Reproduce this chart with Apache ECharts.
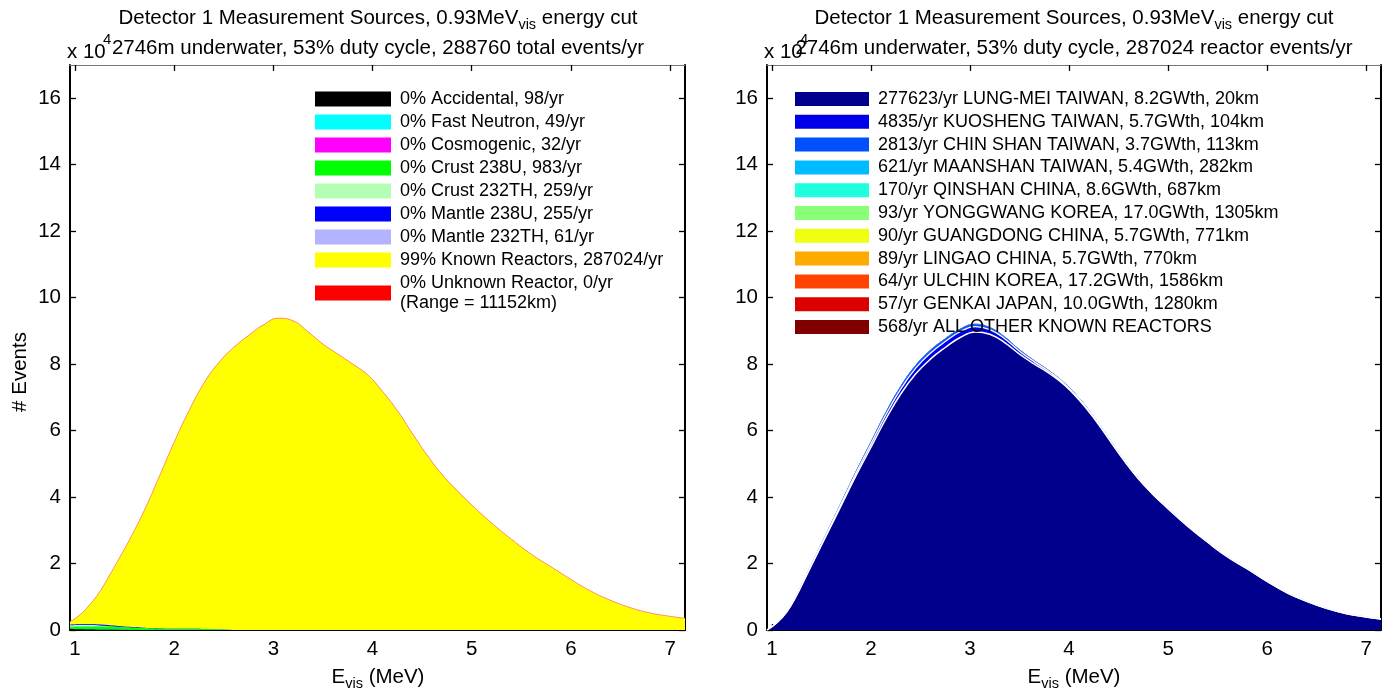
<!DOCTYPE html>
<html>
<head>
<meta charset="utf-8">
<script src="https://cdn.jsdelivr.net/npm/echarts@6/dist/echarts.min.js"></script>
<style>
  html, body { margin: 0; padding: 0; background: #ffffff; }
  #chart { width: 1398px; height: 699px; }
</style>
</head>
<body>
<div id="chart"></div>
<script>
// Visible energy grid (MeV) shared by every spectrum
const energy = [0.95, 1.05, 1.15, 1.25, 1.35, 1.45, 1.55, 1.7, 1.85, 2.0, 2.15, 2.3, 2.45, 2.6, 2.75, 2.9, 3.05, 3.2, 3.35, 3.5,
  3.65, 3.8, 3.95, 4.1, 4.25, 4.4, 4.55, 4.7, 4.85, 5.0, 5.2, 5.4, 5.6, 5.8, 6.0, 6.2, 6.4, 6.6, 6.8, 7.0, 7.15];

// Tick values
const xTicks = [1, 2, 3, 4, 5, 6, 7];
const yTicks = [0, 2, 4, 6, 8, 10, 12, 14, 16];

// ---- Measurement sources (events per bin, x 10^4) ----
const accidental = [0.03, 0.02, 0.012, 0.007, 0.004, 0.002, 0.001, 0, 0, 0, 0, 0, 0, 0, 0, 0, 0, 0, 0, 0,
  0, 0, 0, 0, 0, 0, 0, 0, 0, 0, 0, 0, 0, 0, 0, 0, 0, 0, 0, 0, 0];
const fastNeutron = [0.001, 0.001, 0.001, 0.001, 0.001, 0.001, 0.001, 0.001, 0.001, 0.001, 0.001, 0.001, 0.001, 0.001, 0.001, 0.001, 0.001, 0.001, 0.001, 0.001,
  0.001, 0.001, 0.001, 0.001, 0.001, 0.001, 0.001, 0.001, 0.001, 0.001, 0.001, 0.001, 0.001, 0.001, 0.001, 0.001, 0.001, 0.001, 0.001, 0.001, 0.001];
const cosmogenic = [0.001, 0.001, 0.001, 0.001, 0.001, 0.001, 0.001, 0.001, 0.001, 0.001, 0.001, 0.001, 0.001, 0.001, 0.001, 0.001, 0.001, 0.001, 0.001, 0.001,
  0.001, 0.001, 0.001, 0.001, 0.001, 0.001, 0.001, 0.001, 0.001, 0.001, 0.0005, 0.0005, 0.0005, 0.0005, 0.0005, 0.0005, 0.0005, 0.0005, 0.0005, 0.0005, 0.0005];
const crust238U = [0.06, 0.08, 0.095, 0.1, 0.1, 0.09, 0.075, 0.05, 0.035, 0.03, 0.03, 0.025, 0.01, 0, 0, 0, 0, 0, 0, 0,
  0, 0, 0, 0, 0, 0, 0, 0, 0, 0, 0, 0, 0, 0, 0, 0, 0, 0, 0, 0, 0];
const crust232Th = [0.05, 0.05, 0.04, 0.03, 0.01, 0, 0, 0, 0, 0, 0, 0, 0, 0, 0, 0, 0, 0, 0, 0,
  0, 0, 0, 0, 0, 0, 0, 0, 0, 0, 0, 0, 0, 0, 0, 0, 0, 0, 0, 0, 0];
const mantle238U = [0.015, 0.02, 0.025, 0.026, 0.025, 0.022, 0.018, 0.012, 0.009, 0.008, 0.008, 0.006, 0.003, 0, 0, 0, 0, 0, 0, 0,
  0, 0, 0, 0, 0, 0, 0, 0, 0, 0, 0, 0, 0, 0, 0, 0, 0, 0, 0, 0, 0];
const mantle232Th = [0.012, 0.012, 0.01, 0.007, 0.003, 0, 0, 0, 0, 0, 0, 0, 0, 0, 0, 0, 0, 0, 0, 0,
  0, 0, 0, 0, 0, 0, 0, 0, 0, 0, 0, 0, 0, 0, 0, 0, 0, 0, 0, 0, 0];
const knownReactors = [0.08, 0.27, 0.58, 0.98, 1.51, 2.06, 2.62, 3.54, 4.57, 5.61, 6.56, 7.39, 8.03, 8.5, 8.86, 9.18, 9.38, 9.3, 8.97, 8.6,
  8.3, 8.0, 7.68, 7.18, 6.6, 5.92, 5.26, 4.68, 4.2, 3.76, 3.22, 2.73, 2.28, 1.9, 1.52, 1.17, 0.89, 0.67, 0.51, 0.41, 0.35];
const unknownReactor = [0, 0, 0, 0, 0, 0, 0, 0, 0, 0, 0, 0, 0, 0, 0, 0, 0, 0, 0, 0,
  0, 0, 0, 0, 0, 0, 0, 0, 0, 0, 0, 0, 0, 0, 0, 0, 0, 0, 0, 0, 0];

const sourceNames = [
  '0% Accidental, 98/yr', '0% Fast Neutron, 49/yr', '0% Cosmogenic, 32/yr', '0% Crust 238U, 983/yr',
  '0% Crust 232TH, 259/yr', '0% Mantle 238U, 255/yr', '0% Mantle 232TH, 61/yr',
  '99% Known Reactors, 287024/yr', '0% Unknown Reactor, 0/yr'
];
const unknownRange = '(Range = 11152km)';

// ---- Individual reactor contributions (events per bin, x 10^4) ----
const lungMei = [0.0, 0.22, 0.55, 1.05, 1.65, 2.25, 2.85, 3.75, 4.65, 5.5, 6.35, 7.1, 7.7, 8.15, 8.5, 8.8, 8.97, 8.9, 8.65, 8.3,
  8.0, 7.72, 7.38, 6.93, 6.38, 5.75, 5.12, 4.55, 4.07, 3.65, 3.12, 2.64, 2.2, 1.84, 1.46, 1.12, 0.86, 0.65, 0.49, 0.39, 0.33];
const kuosheng = [0, 0.002, 0.005, 0.01, 0.017, 0.026, 0.037, 0.055, 0.078, 0.1, 0.125, 0.15, 0.17, 0.18, 0.18, 0.175, 0.16, 0.14, 0.115, 0.09,
  0.068, 0.05, 0.038, 0.029, 0.022, 0.017, 0.013, 0.01, 0.008, 0.007, 0.006, 0.005, 0.004, 0.004, 0.003, 0.003, 0.002, 0.002, 0.002, 0.001, 0.001];
const chinShan = [0, 0.001, 0.003, 0.006, 0.01, 0.016, 0.022, 0.033, 0.045, 0.056, 0.067, 0.076, 0.082, 0.083, 0.08, 0.075, 0.068, 0.058, 0.048, 0.039,
  0.031, 0.025, 0.019, 0.015, 0.012, 0.009, 0.007, 0.006, 0.005, 0.004, 0.004, 0.003, 0.003, 0.002, 0.002, 0.002, 0.001, 0.001, 0.001, 0.001, 0.001];
const maanshan = [0, 0, 0, 0.001, 0.001, 0.001, 0.002, 0.002, 0.003, 0.003, 0.004, 0.004, 0.004, 0.004, 0.004, 0.004, 0.004, 0.004, 0.003, 0.003,
  0.003, 0.003, 0.002, 0.002, 0.002, 0.002, 0.002, 0.001, 0.001, 0.001, 0.001, 0.001, 0.001, 0.001, 0, 0, 0, 0, 0, 0, 0];
const qinshan = [0, 0, 0, 0, 0, 0.001, 0.001, 0.001, 0.001, 0.001, 0.002, 0.002, 0.002, 0.002, 0.002, 0.002, 0.002, 0.002, 0.002, 0.001,
  0.001, 0.001, 0.001, 0.001, 0.001, 0.001, 0.001, 0.001, 0, 0, 0, 0, 0, 0, 0, 0, 0, 0, 0, 0, 0];
const yonggwang = [0, 0, 0, 0, 0, 0, 0, 0.001, 0.001, 0.001, 0.001, 0.001, 0.001, 0.001, 0.001, 0.001, 0.001, 0.001, 0.001, 0.001,
  0.001, 0.001, 0.001, 0, 0, 0, 0, 0, 0, 0, 0, 0, 0, 0, 0, 0, 0, 0, 0, 0, 0];
const guangdong = [0, 0, 0, 0, 0, 0, 0, 0.001, 0.001, 0.001, 0.001, 0.001, 0.001, 0.001, 0.001, 0.001, 0.001, 0.001, 0.001, 0.001,
  0.001, 0.001, 0.001, 0, 0, 0, 0, 0, 0, 0, 0, 0, 0, 0, 0, 0, 0, 0, 0, 0, 0];
const lingao = [0, 0, 0, 0, 0, 0, 0, 0.001, 0.001, 0.001, 0.001, 0.001, 0.001, 0.001, 0.001, 0.001, 0.001, 0.001, 0.001, 0.001,
  0.001, 0.001, 0.001, 0, 0, 0, 0, 0, 0, 0, 0, 0, 0, 0, 0, 0, 0, 0, 0, 0, 0];
const ulchin = [0, 0, 0, 0, 0, 0, 0, 0, 0.001, 0.001, 0.001, 0.001, 0.001, 0.001, 0.001, 0.001, 0.001, 0.001, 0.001, 0.001,
  0.001, 0.001, 0, 0, 0, 0, 0, 0, 0, 0, 0, 0, 0, 0, 0, 0, 0, 0, 0, 0, 0];
const genkai = [0, 0, 0, 0, 0, 0, 0, 0, 0.001, 0.001, 0.001, 0.001, 0.001, 0.001, 0.001, 0.001, 0.001, 0.001, 0.001, 0.001,
  0.001, 0, 0, 0, 0, 0, 0, 0, 0, 0, 0, 0, 0, 0, 0, 0, 0, 0, 0, 0, 0];
const otherReactors = [0, 0, 0.001, 0.001, 0.001, 0.002, 0.002, 0.002, 0.003, 0.003, 0.003, 0.003, 0.003, 0.003, 0.003, 0.003, 0.003, 0.003, 0.003, 0.003,
  0.003, 0.002, 0.002, 0.002, 0.002, 0.002, 0.002, 0.001, 0.001, 0.001, 0.001, 0.001, 0.001, 0, 0, 0, 0, 0, 0, 0, 0];

const reactorNames = [
  '277623/yr LUNG-MEI TAIWAN, 8.2GWth, 20km', '4835/yr KUOSHENG TAIWAN, 5.7GWth, 104km',
  '2813/yr CHIN SHAN TAIWAN, 3.7GWth, 113km', '621/yr MAANSHAN TAIWAN, 5.4GWth, 282km',
  '170/yr QINSHAN CHINA, 8.6GWth, 687km', '93/yr YONGGWANG KOREA, 17.0GWth, 1305km',
  '90/yr GUANGDONG CHINA, 5.7GWth, 771km', '89/yr LINGAO CHINA, 5.7GWth, 770km',
  '64/yr ULCHIN KOREA, 17.2GWth, 1586km', '57/yr GENKAI JAPAN, 10.0GWth, 1280km',
  '568/yr ALL OTHER KNOWN REACTORS'
];

const FONT = '"Liberation Sans", Arial, sans-serif';

const sourceValues = [accidental, fastNeutron, cosmogenic, crust238U, crust232Th, mantle238U, mantle232Th, knownReactors, unknownReactor];
const sourceColors = ['#000000', '#00ffff', '#ff00ff', '#00ff00', '#b3ffb3', '#0000ff', '#b3b3ff', '#ffff00', '#ff0000'];
const reactorValues = [lungMei, kuosheng, chinShan, maanshan, qinshan, yonggwang, guangdong, lingao, ulchin, genkai, otherReactors];
const reactorColors = ['#00008c', '#0000e8', '#0050ff', '#00bbff', '#1effdd', '#88ff77', '#eeff11', '#ffaa00', '#ff4400', '#dd0000', '#800000'];

// Running totals: each layer is drawn as the area under its cumulative curve,
// topmost layer first so that lower layers paint over it.
function cumulate(list) {
  const out = [];
  let run = energy.map(() => 0);
  list.forEach(v => { run = run.map((s, i) => s + v[i]); out.push(run); });
  return out;
}

function layerSeries(name, cum, color, axis, line) {
  return {
    name: name, type: 'line', xAxisIndex: axis, yAxisIndex: axis,
    data: energy.map((e, i) => [e, cum[i]]),
    smooth: 0.45, showSymbol: false, symbol: 'none',
    itemStyle: { color: color },
    areaStyle: { color: color, opacity: 1, origin: 'start' },
    lineStyle: line || { width: 0 },
    emphasis: { disabled: true }, silent: true
  };
}

const series = [];
const sourceCum = cumulate(sourceValues);
for (let i = sourceValues.length - 1; i >= 0; i--) {
  series.push(layerSeries(sourceNames[i], sourceCum[i], sourceColors[i], 0,
    i === 8 ? { width: 1, color: '#ff9a70' } : { width: 0 }));
}
const reactorCum = cumulate(reactorValues);
for (let i = reactorValues.length - 1; i >= 0; i--) {
  let line = { width: 0 };
  if (i === 0) line = { width: 1.5, color: '#ffffff' };
  if (i === 1) line = { width: 1.3, color: '#ffffff' };
  if (i === 2) line = { width: 1, color: '#2a6cff' };
  series.push(layerSeries(reactorNames[i], reactorCum[i], reactorColors[i], 2, line));
}

const grids = [
  { left: 70, top: 65, width: 615, height: 565 },
  { left: 767, top: 65, width: 614, height: 565 }
];

const tickStyle = { show: true, inside: true, length: 6, lineStyle: { color: '#000', width: 1.3 } };
const LABEL_SIZE = 20.5;

function xAxes(g) {
  return [
    { type: 'value', gridIndex: g, position: 'bottom', min: 0.95, max: 7.15,
      axisLine: { onZero: false, lineStyle: { color: '#000', width: 2 } },
      axisTick: Object.assign({ customValues: xTicks }, tickStyle),
      axisLabel: { customValues: xTicks, color: '#000', fontSize: LABEL_SIZE, fontFamily: FONT, margin: 9 },
      splitLine: { show: false } },
    { type: 'value', gridIndex: g, position: 'top', min: 0.95, max: 7.15,
      axisLine: { onZero: false, lineStyle: { color: '#777', width: 1 } },
      axisTick: Object.assign({ customValues: xTicks }, tickStyle),
      axisLabel: { show: false }, splitLine: { show: false } }
  ];
}
function yAxes(g) {
  return [
    { type: 'value', gridIndex: g, position: 'left', min: 0, max: 17,
      axisLine: { show: true, onZero: false, lineStyle: { color: '#000', width: 2 } },
      axisTick: Object.assign({ customValues: yTicks }, tickStyle),
      axisLabel: { customValues: yTicks, color: '#000', fontSize: LABEL_SIZE, fontFamily: FONT, margin: 9 },
      splitLine: { show: false } },
    { type: 'value', gridIndex: g, position: 'right', min: 0, max: 17,
      axisLine: { show: true, onZero: false, lineStyle: { color: '#000', width: 2 } },
      axisTick: Object.assign({ customValues: yTicks }, tickStyle),
      axisLabel: { show: false }, splitLine: { show: false } }
  ];
}

const legendText = { color: '#000', fontSize: 18, fontFamily: FONT, lineHeight: 20, padding: [0, 0, 0, 4] };

function legendData(names, colors) {
  return names.map((n, i) => ({ name: n, icon: 'rect', itemStyle: { color: colors[i], borderWidth: 0, opacity: 1 } }));
}

const subRich = {
  t: { fontSize: 20.5, fontFamily: FONT, lineHeight: 28, fill: '#000' },
  s: { fontSize: 14.5, fontFamily: FONT, lineHeight: 13, verticalAlign: 'bottom', fill: '#000' }
};

function titleLine1(cx) {
  return {
    type: 'text', x: cx, y: 4, z: 10,
    style: {
      text: '{t|Detector 1 Measurement Sources, 0.93MeV}{s|vis}{t| energy cut}',
      textAlign: 'center', textVerticalAlign: 'top', rich: subRich
    }
  };
}
function plainText(text, x, y, size, align) {
  return { type: 'text', x: x, y: y, z: 10,
    style: { text: text, fontSize: size, fontFamily: FONT, fill: '#000', textAlign: align || 'center', textVerticalAlign: 'middle' } };
}
function xLabel(cx) {
  return {
    type: 'text', x: cx, y: 663, z: 10,
    style: { text: '{t|E}{s|vis}{t| (MeV)}', textAlign: 'center', textVerticalAlign: 'top', rich: subRich }
  };
}

const option = {
  animation: false,
  backgroundColor: '#ffffff',
  grid: grids,
  xAxis: [].concat(xAxes(0), xAxes(1)),
  yAxis: [].concat(yAxes(0), yAxes(1)),
  legend: [
    { data: legendData(sourceNames, sourceColors), orient: 'vertical', left: 310, top: 84,
      itemWidth: 76, itemHeight: 15, itemGap: 3, selectedMode: false, textStyle: legendText,
      formatter: function (name) { return name === sourceNames[8] ? name + '\n' + unknownRange : name; } },
    { data: legendData(reactorNames, reactorColors), orient: 'vertical', left: 790, top: 84,
      itemWidth: 74, itemHeight: 14, itemGap: 2.8, selectedMode: false, textStyle: legendText }
  ],
  graphic: [
    titleLine1(378),
    titleLine1(1074),
    plainText('2746m underwater, 53% duty cycle, 288760 total events/yr', 378, 48, 20.5),
    plainText('2746m underwater, 53% duty cycle, 287024 reactor events/yr', 1074, 48, 20.5),
    plainText('x 10', 67, 52, 20.5, 'left'),
    plainText('4', 103, 40, 15, 'left'),
    plainText('x 10', 764, 52, 20.5, 'left'),
    plainText('4', 800, 40, 15, 'left'),
    xLabel(378),
    xLabel(1074),
    { type: 'text', x: 20, y: 372, rotation: Math.PI / 2, z: 10,
      style: { text: '# Events', fontSize: 20.5, fontFamily: FONT, fill: '#000', textAlign: 'center', textVerticalAlign: 'middle' } }
  ],
  series: series
};

const chart = echarts.init(document.getElementById('chart'), null, { renderer: 'canvas' });
chart.setOption(option);
</script>
</body>
</html>
